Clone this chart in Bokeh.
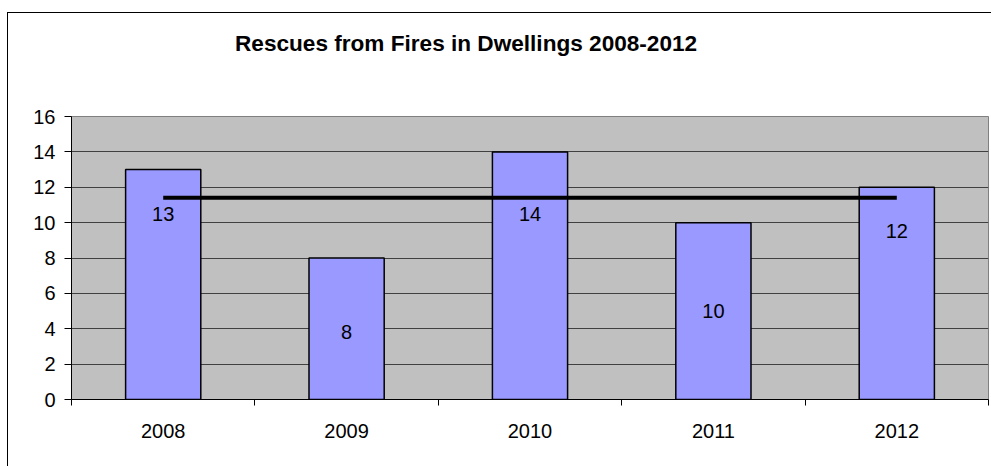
from bokeh.plotting import figure
from bokeh.models import FixedTicker, ColumnDataSource, Div
from bokeh.layouts import column
from bokeh.core.properties import value
from bokeh.embed import file_html
from bokeh.resources import INLINE

# ---- data ----
years = ["2008", "2009", "2010", "2011", "2012"]
rescues = [13, 8, 14, 10, 12]
label_y = [10.5, 3.8, 10.5, 5.0, 9.5]   # where each value label sits
y_ticks = [0, 2, 4, 6, 8, 10, 12, 14, 16]
title_text = "Rescues from Fires in Dwellings 2008-2012"

average = sum(rescues) / len(rescues)
xc = [i + 0.5 for i in range(len(years))]

FONT = "Liberation Sans"

title_div = Div(text=title_text, width=984, height=83,
                styles={"font-family": FONT, "font-weight": "bold", "font-size": "22.6px",
                        "color": "black", "padding-left": "222px", "padding-top": "13px",
                        "line-height": "26px", "white-space": "nowrap",
                        "box-sizing": "border-box"})

p = figure(width=984, height=361, x_range=(0, len(years)), y_range=(0, 16),
           output_backend="svg", toolbar_location=None,
           min_border_left=63, min_border_right=4, min_border_top=10, min_border_bottom=68)

p.background_fill_color = "#C0C0C0"
p.border_fill_color = "white"
p.outline_line_color = "#808080"
p.outline_line_width = 1

src = ColumnDataSource(dict(x=xc, top=rescues, ly=label_y, lab=[str(v) for v in rescues]))
p.vbar(x="x", top="top", bottom=0, width=0.41, source=src,
       fill_color="#9999FF", line_color="black", line_width=1.5)
p.line(x=[xc[0], xc[-1]], y=[average, average], line_color="black", line_width=4)
p.text(x="x", y="ly", text="lab", source=src, text_align="center", text_baseline="middle",
       text_font=value(FONT), text_font_size="20px", text_color="black")

# y axis
p.yaxis.ticker = FixedTicker(ticks=y_ticks)
p.yaxis.axis_line_color = "black"
p.yaxis.major_tick_line_color = "black"
p.yaxis.major_tick_out = 7
p.yaxis.major_tick_in = 0
p.yaxis.minor_tick_line_color = None
p.yaxis.major_label_standoff = 9
p.yaxis.major_label_text_font = FONT
p.yaxis.major_label_text_font_size = "20px"
p.yaxis.major_label_text_color = "black"

# x axis: labels at centres, tick marks at category boundaries
p.xaxis.ticker = FixedTicker(ticks=xc, minor_ticks=list(range(len(years) + 1)))
p.xaxis.major_label_overrides = {x: y for x, y in zip(xc, years)}
p.xaxis.axis_line_color = "black"
p.xaxis.major_tick_out = 0
p.xaxis.major_tick_in = 0
p.xaxis.minor_tick_out = 6
p.xaxis.minor_tick_in = 0
p.xaxis.minor_tick_line_color = "black"
p.xaxis.major_label_standoff = 18
p.xaxis.major_label_text_font = FONT
p.xaxis.major_label_text_font_size = "20px"
p.xaxis.major_label_text_color = "black"

p.xgrid.grid_line_color = None
p.ygrid.ticker = FixedTicker(ticks=y_ticks)
p.ygrid.grid_line_color = "#404040"
p.ygrid.grid_line_width = 1

layout = column(title_div, p, spacing=0)
layout.margin = (12, 0, 0, 7)
layout.styles = {"border-left": "1px solid black", "border-top": "1px solid black",
                 "background-color": "white"}

open("out.html", "w").write(file_html(layout, INLINE))
